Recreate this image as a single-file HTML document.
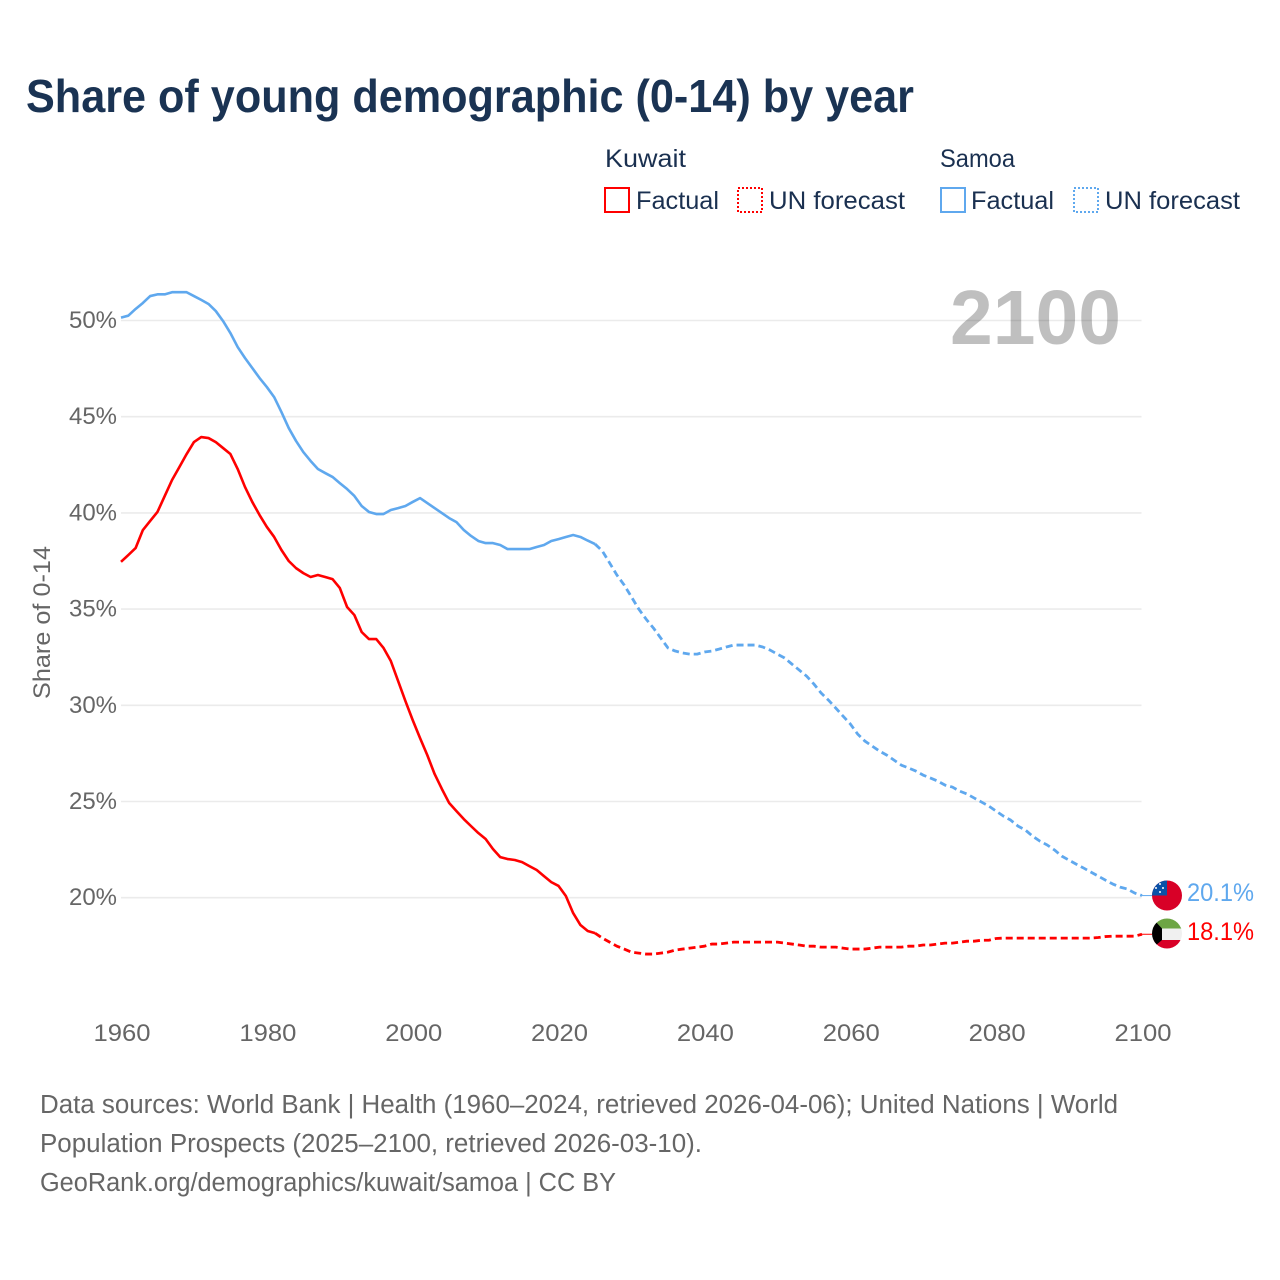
<!DOCTYPE html>
<html lang="en">
<head>
<meta charset="utf-8">
<title>Share of young demographic (0-14) by year</title>
<style>
html,body{margin:0;padding:0;background:#fff;width:1280px;height:1280px;overflow:hidden}
svg{display:block}
text{font-family:"Liberation Sans",sans-serif}
.tick{fill:#666;font-size:24px}
.legend{fill:#1a3050;font-size:25px}
.foot{fill:#666;font-size:25.5px}
</style>
</head>
<body>
<svg id="chart" xmlns="http://www.w3.org/2000/svg" width="1280" height="1280" viewBox="0 0 1280 1280">
  <defs>
    <clipPath id="clip-samoa"><circle cx="1167" cy="895.5" r="15"/></clipPath>
    <clipPath id="clip-kuwait"><circle cx="1167" cy="933.5" r="15"/></clipPath>
  </defs>
  <text x="26" y="112" font-size="46" font-weight="700" fill="#1a3353" textLength="888" lengthAdjust="spacingAndGlyphs">Share of young demographic (0-14) by year</text>

  <g>
    <text class="legend" x="605" y="167" textLength="81" lengthAdjust="spacingAndGlyphs">Kuwait</text>
    <rect x="605" y="188" width="24" height="24" fill="none" stroke="#ff0000" stroke-width="2"/>
    <text class="legend" x="636" y="209" textLength="83" lengthAdjust="spacingAndGlyphs">Factual</text>
    <rect x="738" y="188" width="24" height="24" fill="none" stroke="#ff0000" stroke-width="2" stroke-dasharray="2 2"/>
    <text class="legend" x="769" y="209" textLength="136" lengthAdjust="spacingAndGlyphs">UN forecast</text>
    <text class="legend" x="940" y="167" font-size="25" textLength="75" lengthAdjust="spacingAndGlyphs">Samoa</text>
    <rect x="941" y="188" width="24" height="24" fill="none" stroke="#5fa8ee" stroke-width="2"/>
    <text class="legend" x="971" y="209" textLength="83" lengthAdjust="spacingAndGlyphs">Factual</text>
    <rect x="1074" y="188" width="24" height="24" fill="none" stroke="#5fa8ee" stroke-width="2" stroke-dasharray="2 2"/>
    <text class="legend" x="1105" y="209" textLength="135" lengthAdjust="spacingAndGlyphs">UN forecast</text>
  </g>

  <g id="grid"></g>
  <g id="y-ticks"></g>
  <g id="x-ticks"></g>
  <text transform="translate(50 622.5) rotate(-90)" text-anchor="middle" class="tick" font-size="24" textLength="153" lengthAdjust="spacingAndGlyphs">Share of 0-14</text>
  <text x="950" y="344" font-size="77" font-weight="700" fill="#000" fill-opacity="0.25" textLength="171" lengthAdjust="spacingAndGlyphs">2100</text>

  <g id="series"></g>

  <g clip-path="url(#clip-samoa)">
    <rect x="1152" y="880" width="30" height="31" fill="#d80027"/>
    <rect x="1152" y="880" width="15" height="15.5" fill="#0a52a8"/>
    <circle cx="1160" cy="884" r="1" fill="#fff"/>
    <circle cx="1156" cy="888" r="1" fill="#fff"/>
    <circle cx="1163" cy="888" r="1" fill="#fff"/>
    <circle cx="1160" cy="892" r="1" fill="#fff"/>
  </g>
  <g clip-path="url(#clip-kuwait)">
    <rect x="1152" y="918" width="30" height="11" fill="#6da544"/>
    <rect x="1152" y="928.5" width="30" height="11.5" fill="#f0f0f0"/>
    <rect x="1152" y="940" width="30" height="10" fill="#d80027"/>
    <polygon points="1150,918 1155,921 1162,928.5 1162,940 1155,946 1150,949" fill="#000"/>
  </g>
  <text x="1187" y="901" font-size="25" fill="#5fa8ee" textLength="67" lengthAdjust="spacingAndGlyphs">20.1%</text>
  <text x="1187" y="940" font-size="25" fill="#ff0000" textLength="67" lengthAdjust="spacingAndGlyphs">18.1%</text>

  <g>
    <text class="foot" x="40" y="1113" textLength="1078" lengthAdjust="spacingAndGlyphs">Data sources: World Bank | Health (1960–2024, retrieved 2026-04-06); United Nations | World</text>
    <text class="foot" x="40" y="1152" textLength="662" lengthAdjust="spacingAndGlyphs">Population Prospects (2025–2100, retrieved 2026-03-10).</text>
    <text class="foot" x="40" y="1191" textLength="576" lengthAdjust="spacingAndGlyphs">GeoRank.org/demographics/kuwait/samoa | CC BY</text>
  </g>
</svg>
<script>
const yearTicks = [1960, 1980, 2000, 2020, 2040, 2060, 2080, 2100];
const shareTicks = [20, 25, 30, 35, 40, 45, 50];

const factualStart = 1960;
const samoaFactual = [
  50.15,50.25,50.6,50.91,51.27,51.36,51.36,51.47,51.47,51.47,
  51.27,51.07,50.86,50.49,49.97,49.35,48.62,48.05,47.53,47.01,
  46.54,46.02,45.24,44.41,43.74,43.16,42.70,42.28,42.07,41.87,
  41.55,41.24,40.88,40.36,40.05,39.94,39.94,40.15,40.25,40.36,
  40.57,40.77,40.51,40.25,39.99,39.73,39.52,39.11,38.80,38.54,
  38.43,38.43,38.33,38.12,38.12,38.12,38.12,38.23,38.33,38.54,
  38.64,38.75,38.85,38.75,38.56,38.38
];
const samoaForecast = [
  38.02,37.40,36.77,36.25,
  35.63,35.0,34.48,34.02,33.50,32.98,32.82,32.72,32.66,32.66,
  32.77,32.82,32.92,33.03,33.13,33.13,33.13,33.13,33.03,32.87,
  32.66,32.46,32.14,31.83,31.52,31.11,30.64,30.27,29.86,29.44,
  29.03,28.51,28.14,27.88,27.62,27.41,27.15,26.89,26.74,26.58,
  26.37,26.22,26.06,25.85,25.75,25.54,25.39,25.18,24.97,24.76,
  24.50,24.24,24.03,23.72,23.52,23.20,22.94,22.74,22.48,22.16,
  21.95,21.74,21.54,21.33,21.12,20.91,20.71,20.55,20.45,20.24,
  20.11
];
const kuwaitFactual = [
  37.46,37.81,38.17,39.11,39.58,40.05,40.88,41.71,42.38,43.06,
  43.68,43.94,43.89,43.68,43.37,43.06,42.28,41.35,40.57,39.89,
  39.27,38.75,38.07,37.50,37.13,36.87,36.67,36.77,36.67,36.56,
  36.10,35.11,34.69,33.81,33.44,33.44,32.98,32.30,31.26,30.22,
  29.23,28.30,27.41,26.43,25.65,24.92,24.50,24.09,23.72,23.36,
  23.05,22.53,22.11,22.01,21.96,21.85,21.64,21.44,21.12,20.81,
  20.61,20.09,19.20,18.58,18.27,18.16
];
const kuwaitForecast = [
  17.90,17.69,17.48,17.33,
  17.17,17.12,17.07,17.07,17.12,17.17,17.28,17.33,17.38,17.43,
  17.48,17.59,17.59,17.64,17.69,17.69,17.69,17.69,17.69,17.69,
  17.69,17.64,17.59,17.54,17.48,17.48,17.43,17.43,17.43,17.38,
  17.33,17.33,17.33,17.38,17.43,17.43,17.43,17.43,17.48,17.48,
  17.54,17.54,17.59,17.64,17.64,17.69,17.74,17.74,17.79,17.79,
  17.88,17.90,17.90,17.90,17.90,17.90,17.90,17.90,17.90,17.90,
  17.90,17.90,17.90,17.90,17.93,17.98,18.0,18.0,18.0,18.0,
  18.1
];

const NS = 'http://www.w3.org/2000/svg';
function xScale(year) { return 121 + (year - 1960) * (1142 - 121) / 140; }
function yScale(v) { return 320.5 + (50 - v) * 19.24; }

const gridG = document.getElementById('grid');
const yG = document.getElementById('y-ticks');
const xG = document.getElementById('x-ticks');
const seriesG = document.getElementById('series');

shareTicks.forEach(function (t) {
  const line = document.createElementNS(NS, 'line');
  
  
  line.setAttribute('x1', 121);
  line.setAttribute('x2', 1141.5);
  line.setAttribute('y1', yScale(t));
  line.setAttribute('y2', yScale(t));
  line.setAttribute('stroke', '#ebebeb');
  line.setAttribute('stroke-width', '1.6');
  gridG.appendChild(line);

  const label = document.createElementNS(NS, 'text');
  
  
  label.setAttribute('class', 'tick');
  label.setAttribute('x', 117);
  label.setAttribute('y', yScale(t) + 7.5);
  label.setAttribute('text-anchor', 'end');
  label.setAttribute('textLength', '48');
  label.setAttribute('lengthAdjust', 'spacingAndGlyphs');
  label.textContent = t + '%';
  yG.appendChild(label);
});

yearTicks.forEach(function (t) {
  const label = document.createElementNS(NS, 'text');
  
  
  label.setAttribute('class', 'tick');
  label.setAttribute('x', xScale(t) + 1);
  label.setAttribute('y', 1041);
  label.setAttribute('text-anchor', 'middle');
  label.setAttribute('textLength', '57');
  label.setAttribute('lengthAdjust', 'spacingAndGlyphs');
  label.textContent = t;
  xG.appendChild(label);
});

function pathFrom(values, startYear) {
  return values.map(function (v, i) {
    return (i ? 'L' : 'M') + xScale(startYear + i).toFixed(2) + ' ' + yScale(v).toFixed(2);
  }).join(' ');
}

function drawSeries(name, color, factual, forecast) {
  const solid = document.createElementNS(NS, 'path');
  
  
  solid.setAttribute('d', pathFrom(factual, factualStart));
  solid.setAttribute('fill', 'none');
  solid.setAttribute('stroke', color);
  solid.setAttribute('stroke-width', '2.6');
  solid.setAttribute('stroke-linejoin', 'round');
  seriesG.appendChild(solid);

  const forecastStart = factualStart + factual.length - 1;
  const joined = [factual[factual.length - 1]].concat(forecast);
  const dashed = document.createElementNS(NS, 'path');
  
  
  dashed.setAttribute('d', pathFrom(joined, forecastStart));
  dashed.setAttribute('fill', 'none');
  dashed.setAttribute('stroke', color);
  dashed.setAttribute('stroke-width', '2.8');
  dashed.setAttribute('stroke-dasharray', '7 4');
  dashed.setAttribute('stroke-linejoin', 'round');
  seriesG.appendChild(dashed);

  const last = forecast[forecast.length - 1];
  const connector = document.createElementNS(NS, 'line');
  
  
  connector.setAttribute('x1', xScale(2100));
  connector.setAttribute('x2', 1152);
  connector.setAttribute('y1', yScale(last));
  connector.setAttribute('y2', yScale(last));
  connector.setAttribute('stroke', color);
  connector.setAttribute('stroke-width', '1');
  seriesG.appendChild(connector);
}

drawSeries('kuwait', '#ff0000', kuwaitFactual, kuwaitForecast);
drawSeries('samoa', '#5fa8ee', samoaFactual, samoaForecast);
</script>
</body>
</html>
